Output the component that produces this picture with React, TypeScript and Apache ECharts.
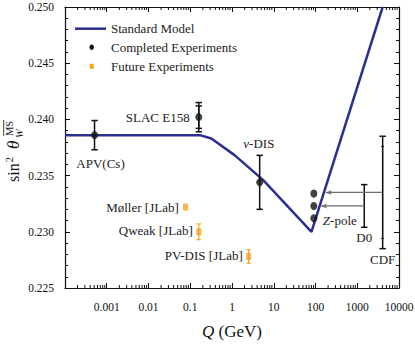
import React, { useEffect, useRef } from 'react';
import * as echarts from 'echarts';

const FONT = 'Liberation Serif';

// Tick labels
const xTickLabels = ['', '0.001', '0.01', '0.1', '1', '10', '100', '1000', '10000'];
const yTickLabels = ['0.225', '0.230', '0.235', '0.240', '0.245', '0.250'];

// Standard Model running curve
const smQ = [0.0001, 0.17, 0.32, 1.17, 5.6, 80, 4060];
const smValue = [0.2386, 0.2386, 0.2383, 0.2368, 0.2346, 0.23, 0.25];

// Completed experiments (APV(Cs), SLAC E158, nu-DIS)
const completedQ = [0.00051, 0.16, 4.6];
const completedValue = [0.2386, 0.2402, 0.2344];
const completedError = [0.0013, 0.0013, 0.0024];
const completedInnerError = [0, 0.001, 0];

// Z-pole measurements
const zPoleQ = [91.2, 91.2, 91.2];
const zPoleValue = [0.2334, 0.2323, 0.2312];

// Tevatron (D0, CDF) — shown as error bars with arrows to the Z pole
const tevatronQ = [1470, 4060];
const tevatronValue = [0.2323, 0.2335];
const tevatronError = [0.0019, 0.005];
const tevatronInnerError = [0, 0.0041];
const arrowToQ = [128, 168];

// Future experiments (Møller, Qweak, PV-DIS)
const futureQ = [0.077, 0.16, 2.5];
const futureValue = [0.2322, 0.23, 0.2278];
const futureError = [0, 0.0007, 0.0006];

// Annotations
const labelText = ['APV(Cs)', 'SLAC E158', '{i|ν}-DIS', 'Møller [JLab]', 'Qweak [JLab]', 'PV-DIS [JLab]', '{i|Z}-pole', 'D0', 'CDF'];
const labelQ = [0.00071, 0.097, 4.4, 0.053, 0.115, 1.81, 150, 1470, 4060];
const labelValue = [0.2361, 0.2402, 0.2379, 0.2322, 0.2301, 0.2279, 0.231, 0.2295, 0.2275];
const labelAlign = ['center', 'right', 'center', 'right', 'right', 'right', 'left', 'center', 'center'];

const NAVY = '#2c2f8f';
const ORANGE = '#f7a21b';
const BLACK = '#111111';
const GREY = '#6e6e6e';

function minorTickValues(): number[] {
  const out: number[] = [];
  for (let e = -4; e < 4; e++) {
    for (let k = 2; k <= 9; k++) out.push(k * Math.pow(10, e));
  }
  return out;
}

function errorBarRender(color: string, cap: number, lw: number) {
  return (params: any, api: any) => {
    const x = api.value(0);
    const lo = api.value(1);
    const hi = api.value(2);
    if (hi <= lo) return { type: 'group', children: [] };
    const a = api.coord([x, lo]);
    const b = api.coord([x, hi]);
    const st = { stroke: color, lineWidth: lw };
    return {
      type: 'group',
      children: [
        { type: 'line', shape: { x1: a[0], y1: a[1], x2: b[0], y2: b[1] }, style: st },
        { type: 'line', shape: { x1: a[0] - cap, y1: a[1], x2: a[0] + cap, y2: a[1] }, style: st },
        { type: 'line', shape: { x1: b[0] - cap, y1: b[1], x2: b[0] + cap, y2: b[1] }, style: st },
      ],
    };
  };
}

export default function App() {
  const ref = useRef<HTMLDivElement>(null);
  useEffect(() => {
    if (!ref.current) return;
    document.body.style.margin = '0';
    const chart = echarts.init(ref.current, null, { renderer: 'svg' });

    const logAxisBase = {
      type: 'log' as const,
      logBase: 10,
      min: 0.0001,
      max: 10000,
      axisLine: { show: true, onZero: false, lineStyle: { color: BLACK, width: 1.2 } },
      axisTick: { show: true, inside: true, length: 5, lineStyle: { color: BLACK, width: 1 } },
      splitLine: { show: false },
    };
    const yAxisBase = {
      type: 'value' as const,
      min: 0.225,
      max: 0.25,
      interval: 0.005,
      axisLine: { show: true, onZero: false, lineStyle: { color: BLACK, width: 1.2 } },
      axisTick: { show: true, inside: true, length: 5, lineStyle: { color: BLACK, width: 1 } },
      minorTick: { show: true, splitNumber: 5, length: 3, lineStyle: { color: BLACK, width: 1 } },
      splitLine: { show: false },
      minorSplitLine: { show: false },
    };

    const option: any = {
      animation: false,
      backgroundColor: '#ffffff',
      textStyle: { fontFamily: FONT },
      grid: { left: 65, right: 16, top: 7, bottom: 58, containLabel: false, outerBoundsMode: 'none' },
      xAxis: [
        {
          ...logAxisBase,
          position: 'bottom',
          name: '{q|Q} (GeV)',
          nameLocation: 'middle',
          nameGap: 35,
          nameTextStyle: {
            fontFamily: FONT,
            fontSize: 17,
            color: BLACK,
            rich: { q: { fontFamily: FONT, fontStyle: 'italic', fontSize: 17, color: BLACK } },
          },
          axisLabel: {
            show: true,
            margin: 13,
            fontFamily: FONT,
            fontSize: 11.5,
            color: BLACK,
            hideOverlap: false,
            showMinLabel: true,
            showMaxLabel: true,
            formatter: (v: number) => xTickLabels[Math.round(Math.log10(v)) + 4] ?? '',
          },
        },
        { ...logAxisBase, position: 'top', axisLabel: { show: false } },
      ],
      yAxis: [
        {
          ...yAxisBase,
          position: 'left',
          axisLabel: {
            show: true,
            margin: 11,
            fontFamily: FONT,
            fontSize: 11.5,
            color: BLACK,
            showMinLabel: true,
            showMaxLabel: true,
            formatter: (v: number) => yTickLabels[Math.round((v - 0.225) / 0.005)] ?? '',
          },
        },
        { ...yAxisBase, position: 'right', axisLabel: { show: false } },
      ],
      graphic: [
        // legend
        { type: 'line', shape: { x1: 75, y1: 28.7, x2: 106, y2: 28.7 }, style: { stroke: NAVY, lineWidth: 2.5 } },
        { type: 'text', x: 111, y: 28.7, style: { text: 'Standard Model', fontFamily: FONT, fontSize: 13, fill: '#222', verticalAlign: 'middle' } },
        { type: 'ellipse', shape: { cx: 91.7, cy: 47.3, rx: 2.2, ry: 2.7 }, style: { fill: BLACK } },
        { type: 'text', x: 111, y: 47.3, style: { text: 'Completed Experiments', fontFamily: FONT, fontSize: 13, fill: '#222', verticalAlign: 'middle' } },
        { type: 'rect', shape: { x: 89.7, y: 63.8, width: 4, height: 5 }, style: { fill: ORANGE } },
        { type: 'text', x: 111, y: 66.3, style: { text: 'Future Experiments', fontFamily: FONT, fontSize: 13, fill: '#222', verticalAlign: 'middle' } },
        // y-axis title
        {
          type: 'group',
          x: 13.2,
          y: 182,
          rotation: Math.PI / 2,
          children: [
            { type: 'text', x: 0, y: 0, style: { text: 'sin', fontFamily: FONT, fontSize: 16, fill: BLACK, verticalAlign: 'middle' } },
            { type: 'text', x: 19.5, y: -4, style: { text: '2', fontFamily: FONT, fontSize: 11, fill: BLACK, verticalAlign: 'middle' } },
            { type: 'text', x: 33, y: 0, style: { text: 'θ', fontFamily: FONT, fontStyle: 'italic', fontSize: 17, fill: BLACK, verticalAlign: 'middle' } },
            { type: 'text', x: 44, y: 6.5, style: { text: 'W', fontFamily: FONT, fontStyle: 'italic', fontSize: 10.5, fill: BLACK, verticalAlign: 'middle' } },
            { type: 'text', x: 46, y: -4, style: { text: 'MS', fontFamily: FONT, fontSize: 10.5, fill: BLACK, verticalAlign: 'middle' } },
            { type: 'line', shape: { x1: 46, y1: -9.5, x2: 62, y2: -9.5 }, style: { stroke: BLACK, lineWidth: 0.8 } },
          ],
        },
      ],
      series: [
        {
          type: 'custom',
          name: 'minor-x-ticks',
          silent: true,
          clip: false,
          data: minorTickValues().map((q) => [q, 0.225]),
          encode: { x: 0, y: 1 },
          renderItem: (params: any, api: any) => {
            const p = api.coord([api.value(0), 0.225]);
            const cs = params.coordSys;
            const st = { stroke: BLACK, lineWidth: 1 };
            return {
              type: 'group',
              children: [
                { type: 'line', shape: { x1: p[0], y1: cs.y + cs.height, x2: p[0], y2: cs.y + cs.height - 3 }, style: st },
                { type: 'line', shape: { x1: p[0], y1: cs.y, x2: p[0], y2: cs.y + 3 }, style: st },
              ],
            };
          },
          z: 1,
        },
        {
          type: 'line',
          name: 'Standard Model',
          data: smQ.map((q, i) => [q, smValue[i]]),
          showSymbol: false,
          symbol: 'none',
          clip: true,
          lineStyle: { color: NAVY, width: 2.5 },
          z: 2,
        },
        {
          type: 'custom',
          name: 'completed-errors',
          data: completedQ.map((q, i) => [q, completedValue[i] - completedError[i], completedValue[i] + completedError[i]]),
          encode: { x: 0, y: [1, 2] },
          renderItem: errorBarRender(BLACK, 3.2, 1.5),
          z: 3,
        },
        {
          type: 'custom',
          name: 'completed-inner-errors',
          data: completedQ.map((q, i) => [q, completedValue[i] - completedInnerError[i], completedValue[i] + completedInnerError[i]]),
          encode: { x: 0, y: [1, 2] },
          renderItem: errorBarRender(BLACK, 3.2, 1.5),
          z: 3,
        },
        {
          type: 'custom',
          name: 'tevatron-errors',
          data: tevatronQ.map((q, i) => [q, tevatronValue[i] - tevatronError[i], tevatronValue[i] + tevatronError[i]]),
          encode: { x: 0, y: [1, 2] },
          renderItem: errorBarRender(BLACK, 3.2, 1.5),
          z: 3,
        },
        {
          type: 'custom',
          name: 'tevatron-inner-errors',
          data: tevatronQ.map((q, i) => [q, tevatronValue[i] - tevatronInnerError[i], tevatronValue[i] + tevatronInnerError[i]]),
          encode: { x: 0, y: [1, 2] },
          renderItem: errorBarRender(BLACK, 1.5, 1),
          z: 3,
        },
        {
          type: 'custom',
          name: 'arrows',
          data: tevatronQ.map((q, i) => [q, arrowToQ[i], tevatronValue[i]]),
          encode: { x: [0, 1], y: 2 },
          renderItem: (params: any, api: any) => {
            const a = api.coord([api.value(0), api.value(2)]);
            const b = api.coord([api.value(1), api.value(2)]);
            return {
              type: 'group',
              children: [
                { type: 'line', shape: { x1: a[0], y1: a[1], x2: b[0] + 4, y2: b[1] }, style: { stroke: GREY, lineWidth: 1.2 } },
                {
                  type: 'polygon',
                  shape: { points: [[b[0], b[1]], [b[0] + 7, b[1] - 2.3], [b[0] + 5.5, b[1]], [b[0] + 7, b[1] + 2.3]] },
                  style: { fill: GREY },
                },
              ],
            };
          },
          z: 3,
        },
        {
          type: 'scatter',
          name: 'Completed Experiments',
          data: completedQ.map((q, i) => [q, completedValue[i]]),
          symbol: 'circle',
          symbolSize: [7, 8],
          itemStyle: { color: BLACK },
          z: 4,
        },
        {
          type: 'scatter',
          name: 'Z-pole',
          data: zPoleQ.map((q, i) => [q, zPoleValue[i]]),
          symbol: 'circle',
          symbolSize: [7, 8],
          itemStyle: { color: BLACK },
          z: 4,
        },
        {
          type: 'custom',
          name: 'future-errors',
          data: futureQ.map((q, i) => [q, futureValue[i] - futureError[i], futureValue[i] + futureError[i]]),
          encode: { x: 0, y: [1, 2] },
          renderItem: errorBarRender(ORANGE, 2.2, 1.2),
          z: 3,
        },
        {
          type: 'scatter',
          name: 'Future Experiments',
          data: futureQ.map((q, i) => [q, futureValue[i]]),
          symbol: 'rect',
          symbolSize: [5, 7],
          itemStyle: { color: ORANGE },
          z: 4,
        },
        {
          type: 'custom',
          name: 'labels',
          clip: false,
          data: labelQ.map((q, i) => [q, labelValue[i]]),
          encode: { x: 0, y: 1 },
          renderItem: (params: any, api: any) => {
            const i = params.dataIndex;
            const p = api.coord([api.value(0), api.value(1)]);
            return {
              type: 'text',
              x: p[0],
              y: p[1],
              style: {
                text: labelText[i],
                fontFamily: FONT,
                fontSize: 13,
                fill: '#222',
                align: labelAlign[i],
                verticalAlign: 'middle',
                rich: { i: { fontFamily: FONT, fontStyle: 'italic', fontSize: 13, fill: '#222' } },
              },
            };
          },
          z: 5,
        },
      ],
    };

    chart.setOption(option);
    return () => chart.dispose();
  }, []);

  return <div ref={ref} style={{ position: 'absolute', left: 0, top: 0, width: 415, height: 346 }} />;
}
